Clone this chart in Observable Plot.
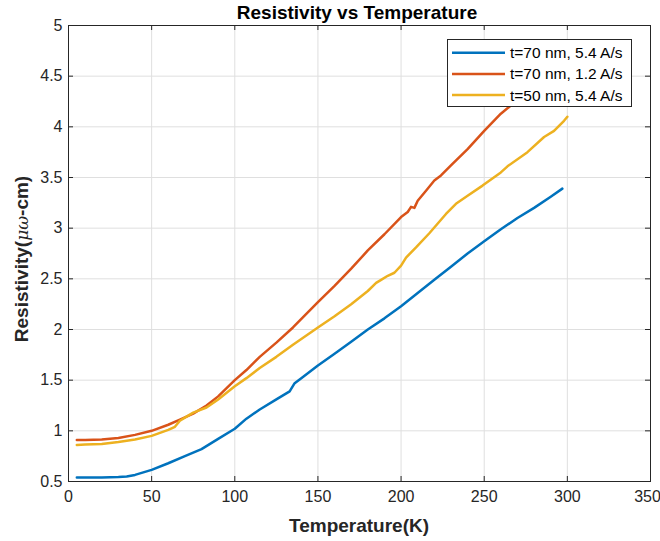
<!DOCTYPE html>
<html><head><meta charset="utf-8">
<script src="https://cdn.jsdelivr.net/npm/d3@7"></script>
<script src="https://cdn.jsdelivr.net/npm/@observablehq/plot@0.6"></script>
<style>
body{margin:0;background:#fff;}
</style>
</head><body><div id="chart"></div>
<script>
const title = "Resistivity vs Temperature";
const xLabel = "Temperature(K)";
const seriesNames = ["t=70 nm, 5.4 A/s", "t=70 nm, 1.2 A/s", "t=50 nm, 5.4 A/s"];
const seriesColors = ["#0072BD", "#D95319", "#EDB120"];
const xTicks = [0, 50, 100, 150, 200, 250, 300, 350];
const yTicks = [0.5, 1, 1.5, 2, 2.5, 3, 3.5, 4, 4.5, 5];

const blueT = [5, 10, 20, 30, 35, 40, 50, 60, 70, 80, 90, 100, 107, 115, 125, 133, 136, 140, 150, 160, 170, 180, 190, 200, 210, 220, 230, 240, 250, 260, 270, 280, 290, 297];
const blueR = [0.54, 0.54, 0.54, 0.545, 0.55, 0.565, 0.615, 0.68, 0.75, 0.82, 0.92, 1.02, 1.12, 1.21, 1.31, 1.39, 1.47, 1.52, 1.645, 1.76, 1.88, 2.0, 2.11, 2.23, 2.36, 2.49, 2.62, 2.75, 2.87, 2.99, 3.10, 3.20, 3.31, 3.39];

const redT = [5, 10, 20, 30, 40, 50, 60, 67, 75, 83, 90, 100, 107, 115, 125, 135, 150, 160, 170, 180, 190, 200, 204, 206, 208, 210, 215, 220, 224, 230, 240, 250, 260, 266, 270, 280, 290, 300];
const redR = [0.91, 0.91, 0.915, 0.93, 0.96, 1.0, 1.06, 1.11, 1.17, 1.25, 1.34, 1.50, 1.60, 1.73, 1.87, 2.02, 2.27, 2.43, 2.60, 2.78, 2.94, 3.11, 3.16, 3.21, 3.20, 3.27, 3.37, 3.47, 3.52, 3.62, 3.78, 3.96, 4.13, 4.21, 4.28, 4.44, 4.60, 4.76];

const yellowT = [5, 10, 20, 30, 40, 50, 60, 64, 67, 70, 75, 83, 90, 100, 107, 115, 125, 135, 150, 160, 170, 180, 185, 188, 192, 196, 200, 203, 209, 217, 227, 233, 240, 249, 260, 264, 276, 286, 292, 298, 300];
const yellowR = [0.86, 0.865, 0.87, 0.89, 0.915, 0.95, 1.01, 1.04, 1.10, 1.13, 1.18, 1.23, 1.31, 1.44, 1.52, 1.62, 1.73, 1.85, 2.02, 2.13, 2.25, 2.38, 2.46, 2.49, 2.53, 2.56, 2.63, 2.71, 2.81, 2.95, 3.14, 3.24, 3.32, 3.42, 3.55, 3.61, 3.75, 3.90, 3.96, 4.06, 4.10];

const seriesT = [blueT, redT, yellowT];
const seriesR = [blueR, redR, yellowR];
const data = [];
seriesT.forEach((ts, i) => ts.forEach((t, j) => data.push({T: t, R: seriesR[i][j], s: seriesNames[i]})));

const W = 660, H = 541, mL = 68, mR = 10, mT = 25, mB = 60;
const fw = W - mL - mR, fh = H - mT - mB, tl = 5;
const font = "'Liberation Sans', Arial, sans-serif";

const plot = Plot.plot({
  width: W, height: H,
  marginLeft: mL, marginRight: mR, marginTop: mT, marginBottom: mB,
  style: {fontFamily: font, fontSize: "16px", color: "#262626", background: "#fff"},
  x: {domain: [0, 350]},
  y: {domain: [0.5, 5]},
  color: {domain: seriesNames, range: seriesColors},
  marks: [
    Plot.gridX(xTicks, {stroke: "#dfdfdf", strokeOpacity: 1, strokeWidth: 1}),
    Plot.gridY(yTicks, {stroke: "#dfdfdf", strokeOpacity: 1, strokeWidth: 1}),
    Plot.line(data, {x: "T", y: "R", z: "s", stroke: "s", strokeWidth: 2.5, curve: "linear"}),
    Plot.tickX(xTicks, {x: d => d, insetTop: fh - tl, stroke: "#262626"}),
    Plot.tickX(xTicks, {x: d => d, insetBottom: fh - tl, stroke: "#262626"}),
    Plot.tickY(yTicks, {y: d => d, insetRight: fw - tl, stroke: "#262626"}),
    Plot.tickY(yTicks, {y: d => d, insetLeft: fw - tl, stroke: "#262626"}),
    Plot.axisX(xTicks.slice(0, -1), {tickSize: 0, tickPadding: 9, label: null, fill: "#262626"}),
    Plot.axisX(xTicks.slice(-1), {tickSize: 0, tickPadding: 9, label: null, fill: "#262626", dx: -3}),
    Plot.axisY(yTicks, {tickSize: 0, tickPadding: 6, label: null, fill: "#262626", tickFormat: d => String(d)}),
    Plot.frame({stroke: "#262626", strokeWidth: 1})
  ]
});

const svg = d3.select(plot);
// title
svg.append("text").attr("x", mL + fw / 2 - 2).attr("y", 18.5)
  .attr("text-anchor", "middle").attr("font-weight", "bold").attr("font-size", 19)
  .attr("fill", "#000").text(title);
// x label
svg.append("text").attr("x", mL + fw / 2).attr("y", 532)
  .attr("text-anchor", "middle").attr("font-weight", "bold").attr("font-size", 19)
  .attr("fill", "#262626").text(xLabel);
// y label
const yl = svg.append("text").attr("transform", `translate(28,${259}) rotate(-90)`)
  .attr("text-anchor", "middle").attr("font-size", 19).attr("fill", "#262626");
yl.append("tspan").attr("font-weight", "bold").text("Resistivity(");
yl.append("tspan").attr("font-style", "italic").attr("font-family", "'DejaVu Serif', serif").attr("font-size", 17).text("μω");
yl.append("tspan").attr("font-weight", "bold").text("-cm)");

// legend
const lg = svg.append("g").attr("text-anchor", "start");
lg.append("rect").attr("x", 447.5).attr("y", 39.5).attr("width", 184).attr("height", 67)
  .attr("fill", "#fff").attr("stroke", "#262626").attr("stroke-width", 1);
seriesNames.forEach((name, i) => {
  const yy = 52.7 + i * 21.2;
  lg.append("line").attr("x1", 452).attr("x2", 505).attr("y1", yy).attr("y2", yy)
    .attr("stroke", seriesColors[i]).attr("stroke-width", 2.5);
  lg.append("text").attr("x", 510).attr("y", yy).attr("dy", "0.35em")
    .attr("text-anchor", "start")
    .attr("font-size", 15.5).attr("fill", "#000").text(name);
});

document.getElementById("chart").appendChild(plot);
</script>
</body></html>
